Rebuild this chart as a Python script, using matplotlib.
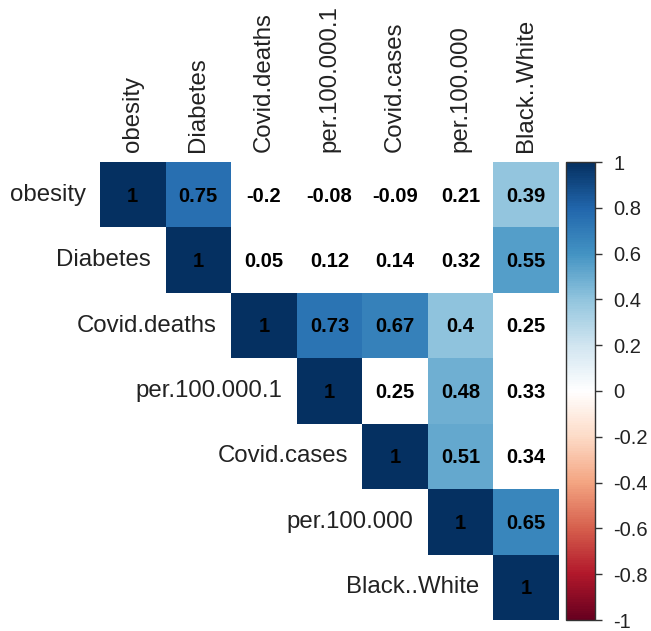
import numpy as np
import matplotlib
matplotlib.use("Agg")
import matplotlib.pyplot as plt
from matplotlib.colors import LinearSegmentedColormap, Normalize
from matplotlib.patches import Rectangle
import matplotlib.colorbar as mcolorbar

plt.rcParams['font.family'] = ['Liberation Sans', 'DejaVu Sans']

variables = ["obesity", "Diabetes", "Covid.deaths", "per.100.000.1",
             "Covid.cases", "per.100.000", "Black..White"]

# upper-triangle correlations, row by row (starting at diagonal)
row_obesity = [1, 0.75, -0.2, -0.08, -0.09, 0.21, 0.39]
row_diabetes = [1, 0.05, 0.12, 0.14, 0.32, 0.55]
row_deaths = [1, 0.73, 0.67, 0.4, 0.25]
row_per1 = [1, 0.25, 0.48, 0.33]
row_cases = [1, 0.51, 0.34]
row_per = [1, 0.65]
row_bw = [1]
rows = [row_obesity, row_diabetes, row_deaths, row_per1, row_cases, row_per, row_bw]

# significance mask (False -> blank cell, value still printed)
sig_obesity = [1, 1, 0, 0, 0, 0, 1]
sig_diabetes = [1, 0, 0, 0, 0, 1]
sig_deaths = [1, 1, 1, 1, 0]
sig_per1 = [1, 0, 1, 0]
sig_cases = [1, 1, 0]
sig_per = [1, 1]
sig_bw = [1]
sigs = [sig_obesity, sig_diabetes, sig_deaths, sig_per1, sig_cases, sig_per, sig_bw]

col2 = ["#67001F", "#B2182B", "#D6604D", "#F4A582", "#FDDBC7", "#FFFFFF",
        "#D1E5F0", "#92C5DE", "#4393C3", "#2166AC", "#053061"]
cmap = LinearSegmentedColormap.from_list("corr", col2, N=200)
norm = Normalize(-1, 1)

W, H = 651, 631
fig = plt.figure(figsize=(W / 100, H / 100), dpi=100)

left, right, top, bottom = 100, 559, 162, 620
ax = fig.add_axes([left / W, 1 - bottom / H, (right - left) / W, (bottom - top) / H])
n = len(variables)
ax.set_xlim(0, n)
ax.set_ylim(n, 0)
ax.axis('off')

for i, (vals, sg) in enumerate(zip(rows, sigs)):
    for k, (v, s) in enumerate(zip(vals, sg)):
        j = i + k
        fc = cmap(norm(v)) if s else "white"
        ax.add_patch(Rectangle((j, i), 1, 1, facecolor=fc, edgecolor='none'))
        txt = f"{v:g}"
        ax.text(j + 0.5, i + 0.52, txt, ha='center', va='center',
                fontsize=14.5, fontweight='bold', color='black')

for i, name in enumerate(variables):
    ax.text(i - 0.22, i + 0.5, name, ha='right', va='center',
            fontsize=17.3, color='#222222', clip_on=False)
    ax.text(i + 0.5, -0.15, name, ha='center', va='bottom', rotation=90,
            fontsize=17.3, color='#222222', clip_on=False)

cax = fig.add_axes([566 / W, 1 - 620 / H, 29 / W, 458 / H])
cb = mcolorbar.ColorbarBase(cax, cmap=cmap, norm=norm, orientation='vertical')
ticks = [1, 0.8, 0.6, 0.4, 0.2, 0, -0.2, -0.4, -0.6, -0.8, -1]
cb.set_ticks(ticks)
cb.set_ticklabels([f"{t:g}" for t in ticks])
cax.tick_params(labelsize=14.5, length=5, width=1, color='#333333',
                labelcolor='#222222', pad=8)
cb.outline.set_edgecolor('#333333')
cb.outline.set_linewidth(1.0)

fig.savefig("out.png", dpi=100)
